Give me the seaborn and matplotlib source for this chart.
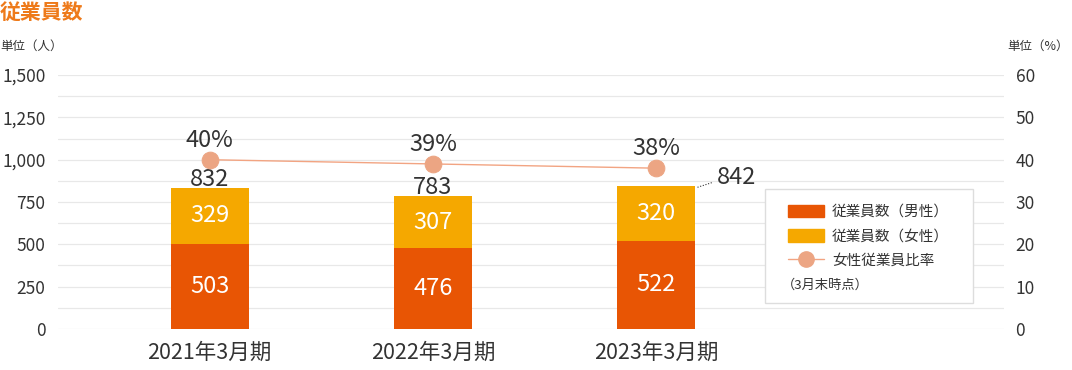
import numpy as np
import pandas as pd
import matplotlib
matplotlib.use("Agg")
import matplotlib.pyplot as plt
import seaborn as sns
from matplotlib.patches import Rectangle
from matplotlib.lines import Line2D
from matplotlib.patches import Patch

# --- data ---
periods = ["2021年3月期", "2022年3月期", "2023年3月期"]
male = [503, 476, 522]
female = [329, 307, 320]
female_ratio = [40, 39, 38]

legend_labels = ["従業員数（男性）", "従業員数（女性）", "女性従業員比率"]
note_text = "（3月末時点）"

c_male = "#E85504"
c_female = "#F5A800"
c_line = "#F2A482"
c_marker = "#ECA583"
c_text = "#333333"
c_grid = "#E8E8E8"

sns.set_theme(style="white")
plt.rcParams["font.family"] = ["Noto Sans CJK JP", "DejaVu Sans"]

df = pd.DataFrame({"period": periods, "male": male, "female": female, "ratio": female_ratio})
df["total"] = df["male"] + df["female"]

fig = plt.figure(figsize=(10.72, 3.70), dpi=100)
ax = fig.add_axes([0.054, 0.111, 0.883, 0.686])

# stacked bars: total in female colour, male drawn over it
sns.barplot(data=df, x="period", y="total", color=c_female, saturation=1, width=0.35,
            linewidth=0, edgecolor="none", ax=ax)
sns.barplot(data=df, x="period", y="male", color=c_male, saturation=1, width=0.35,
            linewidth=0, edgecolor="none", ax=ax)

ax.set_ylim(0, 1500)
ax.set_yticks(np.arange(0, 1501, 250))
ax.set_yticklabels([f"{v:,}" for v in range(0, 1501, 250)])
ax.set_yticks(np.arange(0, 1501, 125), minor=True)
ax.grid(True, which="both", axis="y", color=c_grid, linewidth=0.9)
ax.set_axisbelow(True)
for s in ax.spines.values():
    s.set_visible(False)
ax.set_xlabel("")
ax.set_ylabel("")
ax.tick_params(axis="y", which="both", length=0, labelsize=12.5, labelcolor=c_text, pad=9)
ax.tick_params(axis="x", length=0, labelsize=15.5, labelcolor=c_text, pad=9)
ax.set_xlim(-0.68, 3.56)

# segment labels
for i, row in df.iterrows():
    ax.text(i, row["male"] / 2, f"{row['male']}", color="white", ha="center", va="center", fontsize=17)
    ax.text(i, row["male"] + row["female"] / 2, f"{row['female']}", color="white",
            ha="center", va="center", fontsize=17)
    if i < 2:
        ax.text(i, row["total"] + 12, f"{row['total']}", color=c_text, ha="center",
                va="baseline", fontsize=17)
    else:
        ax.plot([i + 0.185, i + 0.255], [row["total"] - 5, row["total"] + 25],
                color=c_text, linestyle=(0, (1, 1.5)), linewidth=0.8)
        ax.text(i + 0.36, row["total"] + 50, f"{row['total']}", color=c_text, ha="center",
                va="center", fontsize=17)

# ratio line on right axis
ax2 = ax.twinx()
sns.lineplot(x=np.arange(len(periods)), y=female_ratio, color=c_line, linewidth=1,
             marker="o", markersize=12, markerfacecolor=c_marker, markeredgecolor=c_marker, ax=ax2)
ax2.set_ylim(0, 60)
ax2.set_yticks(np.arange(0, 61, 10))
ax2.tick_params(axis="y", length=0, labelsize=12.5, labelcolor=c_text, pad=8)
ax2.grid(False)
for s in ax2.spines.values():
    s.set_visible(False)
ax2.set_xlim(-0.68, 3.56)
for i, v in enumerate(female_ratio):
    ax2.text(i, v + 3.1, f"{v}%", color=c_text, ha="center", va="baseline", fontsize=17)

# legend box
box = Rectangle((0.747, 0.102), 0.22, 0.449, transform=ax.transAxes, facecolor="white",
                edgecolor="#DDDDDD", linewidth=1, zorder=5)
ax2.add_patch(box)
handles = [
    Patch(facecolor=c_male, edgecolor=c_male),
    Patch(facecolor=c_female, edgecolor=c_female),
    Line2D([0], [0], color=c_line, linewidth=1, marker="o", markersize=11,
           markerfacecolor=c_marker, markeredgecolor=c_marker),
]
leg = ax2.legend(handles, legend_labels, loc="upper left", bbox_to_anchor=(0.771, 0.49),
                 bbox_transform=ax.transAxes, frameon=False, fontsize=10.5, handlelength=2.5,
                 handleheight=0.95, handletextpad=0.55, labelspacing=0.7, borderaxespad=0,
                 borderpad=0)
for t in leg.get_texts():
    t.set_color(c_text)
leg.set_zorder(6)
ax2.text(0.765, 0.172, note_text, transform=ax.transAxes, fontsize=9.5, color=c_text,
         va="center", ha="left", zorder=7)

# titles and unit labels
fig.text(0.0, 0.995, "従業員数", color="#EE7A1A", fontsize=15, fontweight="bold", va="top", ha="left")
fig.text(0.0, 0.875, "単位（人）", color=c_text, fontsize=9, va="center", ha="left")
fig.text(0.997, 0.875, "単位（%）", color=c_text, fontsize=9, va="center", ha="right")

fig.savefig("out.png", dpi=100)
